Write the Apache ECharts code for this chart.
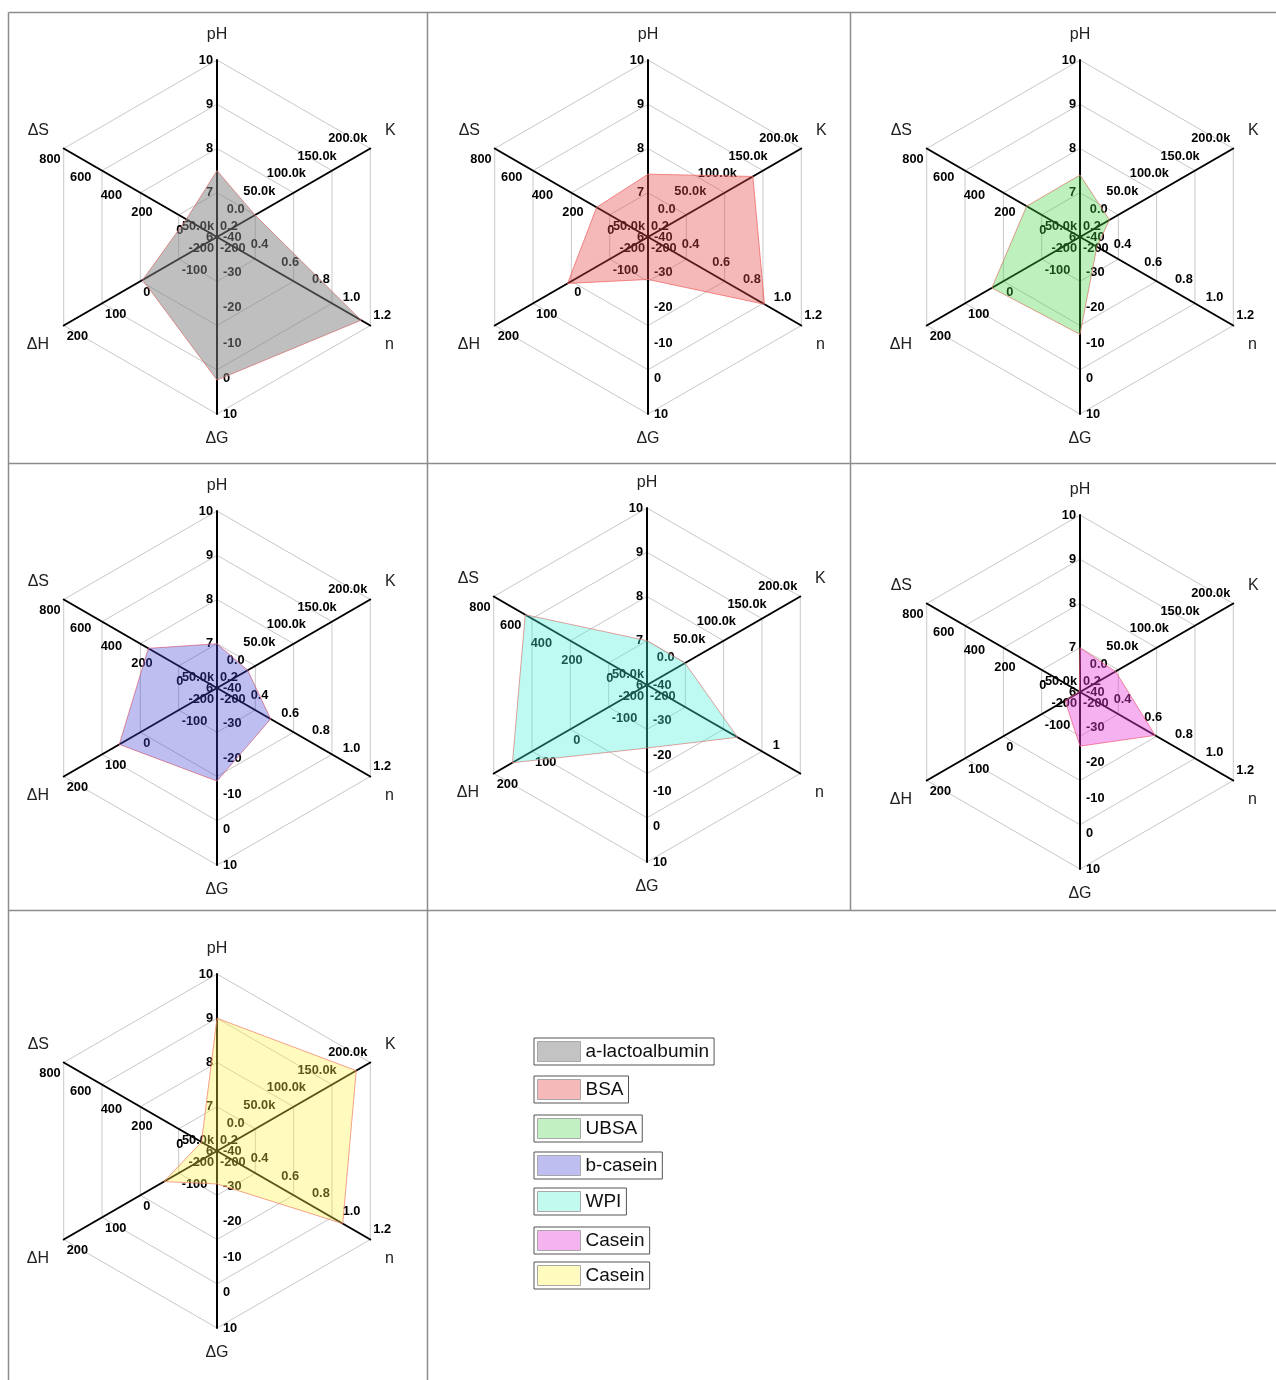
<!DOCTYPE html>
<html><head><meta charset="utf-8">
<script src="https://cdn.jsdelivr.net/npm/echarts@6/dist/echarts.min.js"></script>
<style>html,body{margin:0;padding:0;background:#fff}#c{width:1276px;height:1380px}</style>
</head><body><div id="c"></div>
<script>
// ---- data ----
const proteins = ['a-lactoalbumin', 'BSA', 'UBSA', 'b-casein', 'WPI', 'Casein', 'Casein'];
const pHVals = [7.5, 7.42, 7.4, 7.0, 7.0, 7.0, 9.0];
const kVals  = [12000, 121000, -2000, 0, 12000, 8000, 177000];
const nVals  = [1.14, 0.96, 0.31, 0.55, 0.79, 0.69, 1.02];
const dGVals = [0.4, -28, -12.5, -13.7, -22.2, -24.7, -30.7];
const dHVals = [-6, 10, 30, 55, 151, -161, -62];
const dSVals = [0, 135, 148, 248, 594, -196, -99];

// axes (clockwise from top as in the picture)
const axisNames  = ['pH', 'K', 'n', 'ΔG', 'ΔH', 'ΔS'];
const axisMin    = [6, -50000, 0.2, -40, -200, -200];
const axisMax    = [10, 200000, 1.2, 10, 200, 800];
const axisSplits = [4, 5, 5, 5, 4, 5];

// ---- styling / layout ----
const FONT = '"Liberation Sans", Arial, Helvetica, sans-serif';
const centers = [[217, 237], [648, 237], [1080, 237], [217, 688], [647, 685], [1080, 692], [217, 1151]];
const RADIUS = 177;
const areaColors = [
  'rgba(128,128,128,0.5)', 'rgba(232,70,70,0.38)', 'rgba(70,212,70,0.35)',
  'rgba(70,70,215,0.35)', 'rgba(70,240,215,0.35)', 'rgba(232,60,220,0.4)', 'rgba(255,240,70,0.35)'
];
const swatchColors = ['#c3c3c3', '#f5b9b9', '#c3f0c3', '#bebef0', '#c3faf0', '#f5b4f0', '#fffabe'];
const legendTops = [1038, 1076, 1115, 1152, 1188, 1227, 1262];

const seriesVec = i => [pHVals[i], kVals[i], nVals[i], dGVals[i], dHVals[i], dSVals[i]];
// ECharts lays indicators out counter-clockwise from the top
const ecOrder = [0, 5, 4, 3, 2, 1];

// per-axis label placement: margin + rich style used to nudge vertically
const labelPlace = {
  'pH': { margin: 4, tok: 'p' },
  'K': { margin: 6, tok: 'u' },
  'n': { margin: 6, tok: 'u' },
  'ΔG': { margin: 6, tok: 'p' },
  'ΔH': { margin: 6, tok: 'd' },
  'ΔS': { margin: 6, tok: 'd' }
};
function labelFormatter(axisIdx, chartIdx) {
  const name = axisNames[axisIdx];
  const tok = labelPlace[name].tok;
  let f;
  if (name === 'K') f = v => (Math.abs(v) < 1e-6 ? '0.0' : (v / 1000).toFixed(1) + 'k');
  else if (name === 'n') {
    if (proteins[chartIdx] === 'WPI') f = v => (Math.abs(v - 1) < 1e-6 ? '1' : '');
    else f = v => v.toFixed(1);
  } else f = v => String(Math.round(v));
  return v => { const s = f(v); return s ? '{' + tok + '|' + s + '}' : ''; };
}
const LBL = { fontSize: 12.8, fontWeight: 'bold', color: '#000', fontFamily: FONT };
const labelRich = {
  p: Object.assign({}, LBL),
  u: Object.assign({ padding: [0, 0, 10, 0] }, LBL),
  d: Object.assign({ padding: [12, 0, 0, 0] }, LBL)
};
const nameShift = { 'K': 'up', 'ΔS': 'up', 'n': 'dn', 'ΔH': 'dn' };
const NM = { fontSize: 16, color: '#222', fontFamily: FONT };

const radars = [], series = [], legends = [];
proteins.forEach((p, i) => {
  [4, 5].forEach(split => {
    const primary = split === 4;
    radars.push({
      center: centers[i], radius: RADIUS, shape: 'polygon', startAngle: 90,
      splitNumber: split,
      splitLine: { show: primary, lineStyle: { color: '#c8c8c8', width: 1 } },
      splitArea: { show: false },
      axisLine: { show: primary, lineStyle: { color: '#000', width: 2 } },
      axisTick: { show: false },
      axisName: Object.assign({
        show: primary,
        formatter: n => (nameShift[n] ? '{' + nameShift[n] + '|' + n + '}' : n),
        rich: {
          up: Object.assign({ padding: [0, 0, 19, 0] }, NM),
          dn: Object.assign({ padding: [21, 0, 0, 0] }, NM)
        }
      }, NM),
      nameGap: 17,
      axisLabel: Object.assign({ show: true, margin: 6, rich: labelRich }, LBL),
      indicator: ecOrder.map(a => {
        const show = axisSplits[a] === split;
        const lab = show
          ? { show: true, margin: labelPlace[axisNames[a]].margin, formatter: labelFormatter(a, i) }
          : { show: false };
        return { name: axisNames[a], min: axisMin[a], max: axisMax[a], axisLabel: lab };
      })
    });
  });
  const v = seriesVec(i);
  series.push({
    type: 'radar', radarIndex: 2 * i, symbol: 'none', silent: true,
    lineStyle: { color: 'rgba(240,110,110,0.75)', width: 1 },
    areaStyle: { color: areaColors[i], opacity: 1 },
    data: [{ name: p, value: ecOrder.map(a => v[a]) }]
  });
  legends.push({
    left: 534, top: legendTops[i], orient: 'vertical', selectedMode: false,
    borderColor: '#555', borderWidth: 1, padding: [3, 5, 3, 3],
    itemWidth: 43, itemHeight: 20,
    textStyle: { fontSize: 19, color: '#111', fontFamily: FONT },
    data: [{ name: p, icon: 'rect', itemStyle: { color: swatchColors[i], borderColor: '#a8a8a8', borderWidth: 1 } }]
  });
});

// table frame
const frameLines = [
  [8, 12, 1276, 12], [8, 463, 1276, 463], [8, 910, 1276, 910],
  [8, 12, 8, 1380], [427, 12, 427, 1380], [850, 12, 850, 910]
];
const graphic = frameLines.map(l => ({
  type: 'line', silent: true,
  shape: { x1: l[0] + 0.5, y1: l[1] + 0.5, x2: l[2] + 0.5, y2: l[3] + 0.5 },
  style: { stroke: '#8c8c8c', lineWidth: 1.5 }
}));

const chart = echarts.init(document.getElementById('c'), null, { renderer: 'canvas' });
chart.setOption({
  animation: false,
  backgroundColor: '#fff',
  textStyle: { fontFamily: FONT },
  graphic: graphic,
  radar: radars,
  legend: legends,
  series: series
});
</script></body></html>
